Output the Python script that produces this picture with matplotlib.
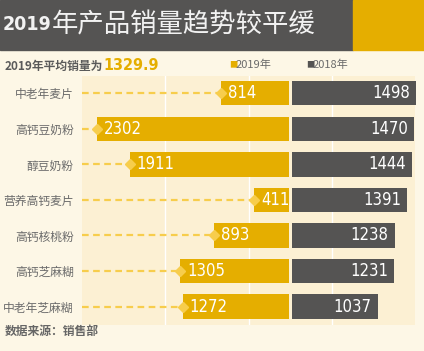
import matplotlib.pyplot as plt
from matplotlib import font_manager
from matplotlib.patches import Rectangle

# data
products = ['中老年麦片', '高钙豆奶粉', '醇豆奶粉', '营养高钙麦片', '高钙核桃粉', '高钙芝麻糊', '中老年芝麻糊']
sales_2019 = [814, 2302, 1911, 411, 893, 1305, 1272]
sales_2018 = [1498, 1470, 1444, 1391, 1238, 1231, 1037]
avg_2019 = 1329.9

# colours
c_dark = '#555453'
c_yellow = '#E5AE00'
c_dash = '#F7CD4C'
c_page = '#FDF7E6'
c_plot = '#FCF0D3'
c_text = '#6B6B6B'

plt.rcParams['font.family'] = ['Noto Sans CJK SC', 'DejaVu Sans']

# narrow face for the numbers
files = {f.fname.split('/')[-1]: f.fname for f in font_manager.fontManager.ttflist}
reg_file = None
bold_file = None
for r, b in [('LiberationSansNarrow-Regular.ttf', 'LiberationSansNarrow-Bold.ttf'),
             ('DejaVuSansCondensed.ttf', 'DejaVuSansCondensed-Bold.ttf')]:
    if r in files:
        reg_file = files[r]
        bold_file = files.get(b, files[r])
        break

def nf(size, bold=False):
    if reg_file is None:
        return font_manager.FontProperties(family='DejaVu Sans', stretch='condensed',
                                           weight='bold' if bold else 'normal', size=size)
    return font_manager.FontProperties(fname=bold_file if bold else reg_file, size=size)

W, H = 424, 351
fig = plt.figure(figsize=(W / 100, H / 100), dpi=100, facecolor=c_page)

def fx(px):
    return px / W

def fy(py):
    return 1 - py / H

# title band
fig.patches.append(Rectangle((0, fy(50)), fx(353), 50 / H, transform=fig.transFigure,
                             color=c_dark, zorder=0))
fig.patches.append(Rectangle((fx(353), fy(50)), fx(W - 353), 50 / H, transform=fig.transFigure,
                             color=c_yellow, zorder=0))
fig.text(fx(3), fy(25), '2019', fontproperties=nf(14, True),
         color='#F2F2F2', va='center', ha='left')
fig.text(fx(52), fy(25), '年产品销量趋势较平缓', fontsize=19, color='#F2F2F2',
         va='center', ha='left')

# subtitle
fig.text(fx(5), fy(66), '2019年平均销量为', fontsize=8.5, fontweight='bold', color='#5A5A5A',
         va='center', ha='left')
fig.text(fx(103), fy(66), f'{avg_2019}', fontproperties=nf(11.5, True),
         color=c_yellow, va='center', ha='left')

# legend
fig.text(fx(229), fy(65), '■', fontsize=6, color=c_yellow, va='center', ha='left')
fig.text(fx(236), fy(65), '2019年', fontsize=8, color=c_text, va='center', ha='left')
fig.text(fx(306), fy(65), '■', fontsize=6, color=c_dark, va='center', ha='left')
fig.text(fx(313), fy(65), '2018年', fontsize=8, color=c_text, va='center', ha='left')

# footer
fig.text(fx(5), fy(331), '数据来源：销售部', fontsize=8.5, fontweight='bold', color='#666666',
         va='center', ha='left')

# main axes
ax = fig.add_axes([fx(82), fy(325), fx(415) - fx(82), (325 - 76) / H])
ax.set_facecolor(c_plot)
for s in ax.spines.values():
    s.set_visible(False)
ax.set_xlim(-2500, 1500)
ax.set_ylim(len(products) - 0.48, -0.49)
ax.set_xticks([])
ax.set_yticks(range(len(products)))
ax.set_yticklabels(products, fontsize=8.5, color=c_text)
ax.tick_params(axis='y', length=0, pad=6)

for g in [-1500, -500, 500]:
    ax.axvline(g, color='white', lw=1, zorder=1)

gap = 18
ys = list(range(len(products)))
ax.barh(ys, sales_2019, left=[-gap - v for v in sales_2019], height=0.68,
        color=c_yellow, zorder=3)
ax.barh(ys, sales_2018, left=gap, height=0.68, color=c_dark, zorder=3, clip_on=False)

for y, v in zip(ys, sales_2019):
    start = -gap - v
    ax.plot([-2500, start], [y, y], ls=(0, (3, 2)), color=c_dash, lw=1.6, zorder=2)
    ax.plot([start], [y], marker='D', ms=5, color=c_dash, zorder=4)
    ax.text(start + 85, y, str(v), fontproperties=nf(12), color='white',
            va='center', ha='left', zorder=5)

for y, v in zip(ys, sales_2018):
    ax.text(gap + v - 75, y, str(v), fontproperties=nf(12), color='white',
            va='center', ha='right', zorder=5, clip_on=False)

fig.savefig('out.png', dpi=100, facecolor=c_page)
